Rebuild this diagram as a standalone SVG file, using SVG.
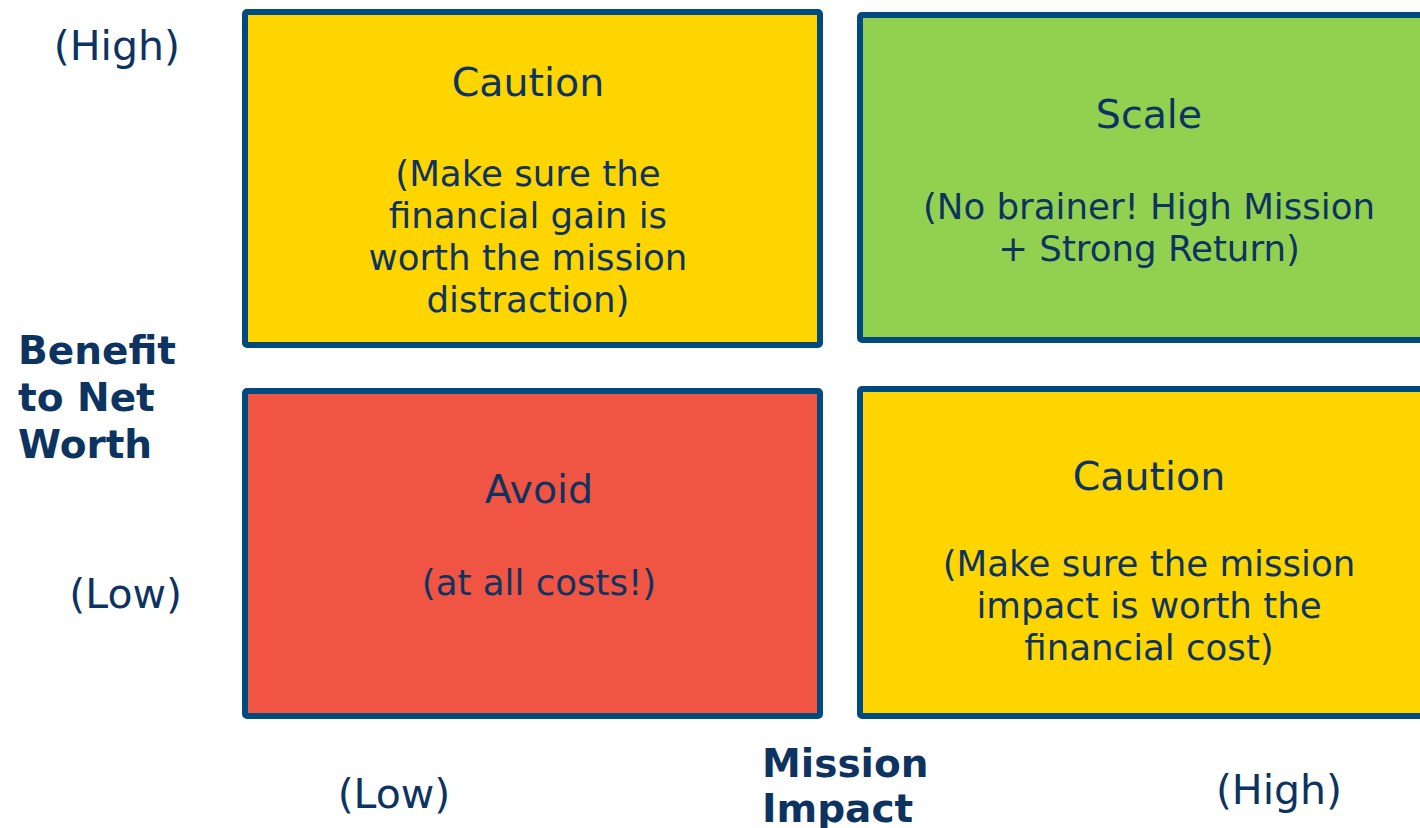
<svg xmlns="http://www.w3.org/2000/svg" width="1420" height="828" viewBox="0 0 1420 828">
<style>
.box{stroke:#004A80;stroke-width:6;stroke-linejoin:round}
.t{font-family:"DejaVu Sans",Verdana,sans-serif;fill:#0D3461;text-anchor:middle}
.title{font-size:39.5px}
.body{font-size:35.6px}
.ax{font-family:"DejaVu Sans",Verdana,sans-serif;fill:#0D3461;font-size:41px}
.bold{font-family:"DejaVu Sans",Verdana,sans-serif;fill:#0D3461;font-size:39px;font-weight:bold}
</style>
<rect width="1420" height="828" fill="#fff"/>
<g id="caution-top">
<rect class="box" x="245" y="12" width="575" height="333" rx="2" fill="#FFD500"/>
<text class="t title" x="528" y="96">Caution</text>
<text class="t body" x="528" y="186">(Make sure the</text>
<text class="t body" x="528" y="228">financial gain is</text>
<text class="t body" x="528" y="270">worth the mission</text>
<text class="t body" x="528" y="312">distraction)</text>
</g>
<g id="scale">
<rect class="box" x="860" y="15" width="580" height="325" rx="2" fill="#92D050"/>
<text class="t title" x="1149" y="128">Scale</text>
<text class="t body" x="1149" y="219">(No brainer! High Mission</text>
<text class="t body" x="1149" y="261">+ Strong Return)</text>
</g>
<g id="avoid">
<rect class="box" x="245" y="391" width="575" height="325" rx="2" fill="#F05442"/>
<text class="t title" x="539" y="503">Avoid</text>
<text class="t body" x="539" y="595">(at all costs!)</text>
</g>
<g id="caution-bottom">
<rect class="box" x="860" y="389" width="580" height="327" rx="2" fill="#FFD500"/>
<text class="t title" x="1149" y="490">Caution</text>
<text class="t body" x="1149" y="576">(Make sure the mission</text>
<text class="t body" x="1149" y="618">impact is worth the</text>
<text class="t body" x="1149" y="660">financial cost)</text>
</g>
<g id="axes">
<text class="ax" x="180" y="60" text-anchor="end">(High)</text>
<text class="ax" x="182" y="608" text-anchor="end">(Low)</text>
<text class="ax" x="394" y="808" text-anchor="middle">(Low)</text>
<text class="ax" x="1279" y="804" text-anchor="middle">(High)</text>
<text class="bold" x="18" y="364">Benefit</text>
<text class="bold" x="18" y="411">to Net</text>
<text class="bold" x="18" y="458">Worth</text>
<text class="bold" x="762" y="777">Mission</text>
<text class="bold" x="762" y="822">Impact</text>
</g>
<g id="connectors"></g>
</svg>
